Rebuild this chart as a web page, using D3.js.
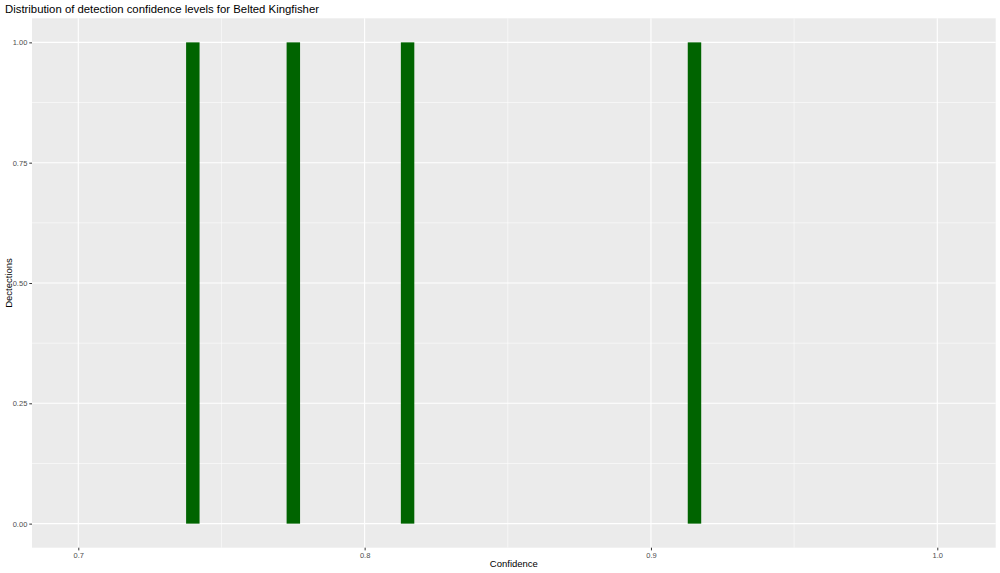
<!DOCTYPE html>
<html><head><meta charset="utf-8">
<script src="https://cdn.jsdelivr.net/npm/d3@7"></script>
<style>body{margin:0;background:#fff}svg{display:block}text{font-family:"Liberation Sans",Arial,Helvetica,sans-serif}</style>
</head><body><svg id="c" width="1000" height="573"></svg>
<script>
const binCenters = [0.740, 0.7751, 0.815, 0.9152];
const binCounts = [1, 1, 1, 1];
const binWidth = 0.0047;
const xTicks = [0.7, 0.8, 0.9, 1.0];
const xTickLabels = ["0.7", "0.8", "0.9", "1.0"];
const xMinor = [0.75, 0.85, 0.95];
const yTicks = [0, 0.25, 0.5, 0.75, 1.0];
const yTickLabels = ["0.00", "0.25", "0.50", "0.75", "1.00"];
const yMinor = [0.125, 0.375, 0.625, 0.875];

const svg = d3.select("#c");
const L = 32, R = 995.7, T = 18.3, B = 547.7;
const x = d3.scaleLinear().domain([0.68383, 1.0204]).range([L, R]);
const y = d3.scaleLinear().domain([-0.05, 1.05]).range([B, T]);

svg.append("rect").attr("x", L).attr("y", T).attr("width", R - L).attr("height", B - T).attr("fill", "#EBEBEB");

const g = svg.append("g");
g.selectAll(".xmin").data(xMinor).join("line").attr("x1", d => x(d)).attr("x2", d => x(d)).attr("y1", T).attr("y2", B).attr("stroke", "#fff").attr("stroke-width", 0.55);
g.selectAll(".ymin").data(yMinor).join("line").attr("y1", d => y(d)).attr("y2", d => y(d)).attr("x1", L).attr("x2", R).attr("stroke", "#fff").attr("stroke-width", 0.55);
g.selectAll(".xmaj").data(xTicks).join("line").attr("x1", d => x(d)).attr("x2", d => x(d)).attr("y1", T).attr("y2", B).attr("stroke", "#fff").attr("stroke-width", 1.1);
g.selectAll(".ymaj").data(yTicks).join("line").attr("y1", d => y(d)).attr("y2", d => y(d)).attr("x1", L).attr("x2", R).attr("stroke", "#fff").attr("stroke-width", 1.1);

svg.selectAll(".bar").data(binCenters).join("rect")
  .attr("x", d => x(d - binWidth / 2))
  .attr("width", d => x(d + binWidth / 2) - x(d - binWidth / 2))
  .attr("y", (d, i) => y(binCounts[i]))
  .attr("height", (d, i) => y(0) - y(binCounts[i]))
  .attr("fill", "#006400");

// x axis
const xa = d3.axisBottom(x).tickValues(xTicks).tickFormat((d, i) => xTickLabels[i]).tickSize(2.7).tickPadding(2);
const xg = svg.append("g").attr("transform", `translate(0,${B})`).call(xa);
xg.select(".domain").remove();
xg.selectAll("line").attr("stroke", "#333").attr("stroke-width", 1);
xg.selectAll("text").attr("fill", "#4D4D4D").attr("font-size", 7.5).style("font-family", '"Liberation Sans",Arial,sans-serif');

const ya = d3.axisLeft(y).tickValues(yTicks).tickFormat((d, i) => yTickLabels[i]).tickSize(2.7).tickPadding(2);
const yg = svg.append("g").attr("transform", `translate(${L},0)`).call(ya);
yg.select(".domain").remove();
yg.selectAll("line").attr("stroke", "#333").attr("stroke-width", 1);
yg.selectAll("text").attr("fill", "#4D4D4D").attr("font-size", 7.5).style("font-family", '"Liberation Sans",Arial,sans-serif');

svg.append("text").attr("x", (L + R) / 2).attr("y", 567).attr("text-anchor", "middle").attr("font-size", 9.5).attr("fill", "#000").text("Confidence");
svg.append("text").attr("transform", `translate(12,${(T + B) / 2}) rotate(-90)`).attr("text-anchor", "middle").attr("font-size", 9.5).attr("fill", "#000").text("Dectections");
svg.append("text").attr("x", 5).attr("y", 12.5).attr("font-size", 11.35).attr("fill", "#000").text("Distribution of detection confidence levels for Belted Kingfisher");
</script></body></html>
